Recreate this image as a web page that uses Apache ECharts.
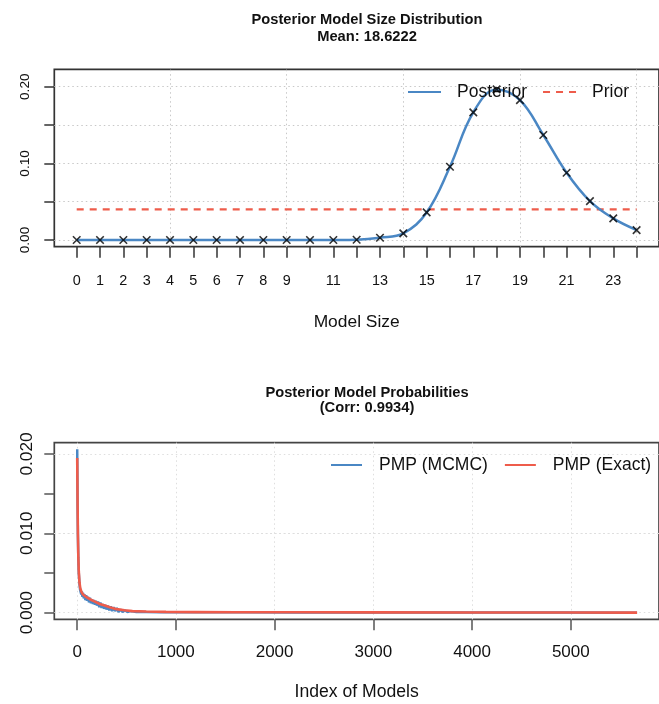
<!DOCTYPE html>
<html>
<head>
<meta charset="utf-8">
<script src="https://cdn.jsdelivr.net/npm/echarts@6/dist/echarts.min.js"></script>
<style>
  html, body { margin: 0; padding: 0; background: #fff; }
  #chart { width: 659px; height: 704px; }
</style>
</head>
<body>
<div id="chart"></div>
<script>
// ---- Model size distribution ----
const modelSizes = [0,1,2,3,4,5,6,7,8,9,10,11,12,13,14,15,16,17,18,19,20,21,22,23,24];
const posteriorSize = [0,0,0,0,0,0,0,0,0,0,0,0.0001,0.0004,0.003,0.0087,0.036,0.0956,0.1665,0.1965,0.1825,0.137,0.0878,0.0508,0.0282,0.013];
const priorSize = [0.04,0.04,0.04,0.04,0.04,0.04,0.04,0.04,0.04,0.04,0.04,0.04,0.04,0.04,0.04,0.04,0.04,0.04,0.04,0.04,0.04,0.04,0.04,0.04,0.04];
const sizeTickValues = [0,1,2,3,4,5,6,7,8,9,10,11,12,13,14,15,16,17,18,19,20,21,22,23,24];
const sizeLabelValues = [0,1,2,3,4,5,6,7,8,9,11,13,15,17,19,21,23];
const sizeYTicks = [0,0.05,0.10,0.15,0.20];
const sizeYLabels = [0,0.10,0.20];
const sizeGridX = [4,9,14,19,24];

// ---- Posterior model probabilities (model index, PMP) ----
const pmpIndexMcmc = [1,3,5,8,12,17,24,30,36,42,48,54,60,68,76,84,92,100,110,120,130,140,150,160,170,180,190,200,212,224,236,248,260,272,285,298,312,326,340,355,370,386,402,420,440,460,485,510,540,600,700,850,1000,1300,1700,2200,2800,3500,4200,4900,5671];
const pmpMcmc = [0.0206,0.0170,0.0131,0.0098,0.0070,0.0050,0.0036,0.0029,0.0031,0.0023,0.0027,0.0020,0.0025,0.0018,0.0023,0.0016,0.0022,0.0015,0.0020,0.0013,0.0019,0.0012,0.0017,0.0011,0.0016,0.0010,0.0015,0.0009,0.0014,0.0007,0.0013,0.0006,0.0011,0.0005,0.0010,0.0004,0.0009,0.0003,0.0008,0.0002,0.0007,0.0002,0.0006,0.0001,0.0004,0.0001,0.0003,0.0001,0.0002,0.0001,0.00008,0.00007,0.00006,0.00005,0.00005,0.00004,0.00004,0.00003,0.00003,0.00002,0.00001];
const pmpIndexExact = [1,3,5,8,12,17,24,32,45,60,90,130,180,230,280,330,400,480,560,700,900,1200,1600,2200,3000,4000,5000,5671];
const pmpExact = [0.0195,0.0165,0.0135,0.0100,0.0072,0.0052,0.0038,0.0031,0.0026,0.0023,0.0020,0.0017,0.0014,0.0011,0.0009,0.0007,0.00045,0.0003,0.0002,0.00015,0.0001,0.00008,0.00006,0.00005,0.00004,0.00003,0.00002,0.00001];
const pmpXTicks = [0,1000,2000,3000,4000,5000];
const pmpYTicks = [0,0.005,0.010,0.015,0.020];
const pmpYLabels = [0,0.010,0.020];

const FONT = "'Liberation Sans', Arial, Helvetica, sans-serif";
const BLUE = '#4A87C4';
const RED = '#EE5C4B';
const AXIS = '#333333';

const zip = (xs, ys) => xs.map((x, i) => [x, ys[i]]);

const chart = echarts.init(document.getElementById('chart'), null, { renderer: 'canvas' });

// dotted reference grid drawn through the axes' own scales
function gridMarks(xs, ys, color) {
  return {
    silent: true,
    symbol: 'none',
    z: 1,
    label: { show: false },
    lineStyle: { color: color, type: [1.5, 3], width: 1 },
    data: xs.map(v => ({ xAxis: v })).concat(ys.map(v => ({ yAxis: v })))
  };
}

const legendText = { fontFamily: FONT, fontSize: 17.5, color: '#111' };

const option = {
  backgroundColor: '#ffffff',
  animation: false,
  textStyle: { fontFamily: FONT },
  title: [
    {
      text: 'Posterior Model Size Distribution\nMean: 18.6222',
      left: 362, top: 6, textAlign: 'center',
      textStyle: { fontFamily: FONT, fontWeight: 'bold', fontSize: 14.7, lineHeight: 17, color: '#111' }
    },
    {
      text: 'Posterior Model Probabilities\n(Corr: 0.9934)',
      left: 362, top: 380, textAlign: 'center',
      textStyle: { fontFamily: FONT, fontWeight: 'bold', fontSize: 14.7, lineHeight: 15.5, color: '#111' }
    }
  ],
  legend: [
    {
      data: ['Posterior', 'Prior'],
      left: 407, top: 83, padding: 0, width: 300,
      itemWidth: 33, itemHeight: 14, itemGap: 15,
      itemStyle: { opacity: 0 },
      textStyle: Object.assign({ padding: [0, 0, 0, 11] }, legendText)
    },
    {
      data: ['PMP (MCMC)', 'PMP (Exact)'],
      left: 330, top: 456, padding: 0, width: 400,
      itemWidth: 31, itemHeight: 14, itemGap: 16,
      itemStyle: { opacity: 0 },
      textStyle: Object.assign({ padding: [0, 0, 0, 12] }, legendText)
    }
  ],
  grid: [
    { left: 54.3, top: 69.3, width: 614.4, height: 177.4, show: true, borderColor: AXIS, borderWidth: 1.7, backgroundColor: 'transparent' },
    { left: 54.3, top: 442.7, width: 614.4, height: 176.6, show: true, borderColor: '#444', borderWidth: 1.7, backgroundColor: 'transparent' }
  ],
  xAxis: [
    {
      gridIndex: 0, type: 'value', min: -0.96, max: 24.96,
      axisLine: { show: false, onZero: false },
      axisTick: { show: true, length: 11, customValues: sizeTickValues, lineStyle: { color: AXIS, width: 1.5 } },
      axisLabel: { show: true, customValues: sizeLabelValues, margin: 27, fontSize: 14.4, color: '#111', fontFamily: FONT },
      splitLine: { show: false },
      name: 'Model Size', nameLocation: 'middle', nameGap: 67,
      nameTextStyle: { fontSize: 17.4, color: '#111', fontFamily: FONT }
    },
    {
      gridIndex: 1, type: 'value', min: -231, max: 5893,
      axisLine: { show: false, onZero: false },
      axisTick: { show: true, length: 11, customValues: pmpXTicks, lineStyle: { color: '#555', width: 1.5 } },
      axisLabel: { show: true, customValues: pmpXTicks, margin: 25, fontSize: 17, color: '#111', fontFamily: FONT,
        formatter: v => String(v) },
      splitLine: { show: false },
      name: 'Index of Models', nameLocation: 'middle', nameGap: 64,
      nameTextStyle: { fontSize: 17.6, color: '#111', fontFamily: FONT }
    }
  ],
  yAxis: [
    {
      gridIndex: 0, type: 'value', min: -0.0087, max: 0.2227,
      axisLine: { show: false, onZero: false },
      axisTick: { show: true, length: 10, customValues: sizeYTicks, lineStyle: { color: AXIS, width: 1.5 } },
      axisLabel: { show: true, customValues: sizeYLabels, rotate: 90, margin: 22, fontSize: 13.7, color: '#111', fontFamily: FONT,
        formatter: v => Number(v).toFixed(2) },
      splitLine: { show: false }
    },
    {
      gridIndex: 1, type: 'value', min: -0.00083, max: 0.02142,
      axisLine: { show: false, onZero: false },
      axisTick: { show: true, length: 10, customValues: pmpYTicks, lineStyle: { color: '#555', width: 1.5 } },
      axisLabel: { show: true, customValues: pmpYLabels, rotate: 90, margin: 19, fontSize: 17.3, color: '#111', fontFamily: FONT,
        formatter: v => Number(v).toFixed(3) },
      splitLine: { show: false }
    }
  ],
  series: [
    {
      name: 'gridSize', type: 'line', xAxisIndex: 0, yAxisIndex: 0, data: [], silent: true,
      markLine: gridMarks(sizeGridX, sizeYTicks, '#c8c8c8')
    },
    {
      name: 'Prior', type: 'line', xAxisIndex: 0, yAxisIndex: 0, z: 2,
      data: zip(modelSizes, priorSize), showSymbol: false,
      lineStyle: { color: RED, width: 2.4, type: [7, 6] }, itemStyle: { color: RED }
    },
    {
      name: 'Posterior', type: 'line', xAxisIndex: 0, yAxisIndex: 0, z: 3,
      data: zip(modelSizes, posteriorSize), showSymbol: false, smooth: 0.4,
      lineStyle: { color: BLUE, width: 2.5 }, itemStyle: { color: BLUE }
    },
    {
      name: 'sizeMarks', type: 'scatter', xAxisIndex: 0, yAxisIndex: 0, z: 4, silent: true,
      data: zip(modelSizes, posteriorSize),
      symbol: 'path://M0,0L10,10M10,0L0,10', symbolSize: 7.5,
      itemStyle: { color: 'rgba(0,0,0,0)', borderColor: '#000', borderWidth: 1.6 }
    },
    {
      name: 'gridPmp', type: 'line', xAxisIndex: 1, yAxisIndex: 1, data: [], silent: true,
      markLine: gridMarks(pmpXTicks, pmpYTicks, '#dedede')
    },
    {
      name: 'PMP (MCMC)', type: 'line', xAxisIndex: 1, yAxisIndex: 1, z: 2,
      data: zip(pmpIndexMcmc, pmpMcmc), showSymbol: false,
      lineStyle: { color: BLUE, width: 2.5 }, itemStyle: { color: BLUE }
    },
    {
      name: 'PMP (Exact)', type: 'line', xAxisIndex: 1, yAxisIndex: 1, z: 3,
      data: zip(pmpIndexExact, pmpExact), showSymbol: false,
      lineStyle: { color: RED, width: 2.6 }, itemStyle: { color: RED }
    }
  ]
};

chart.setOption(option);
</script>
</body>
</html>
